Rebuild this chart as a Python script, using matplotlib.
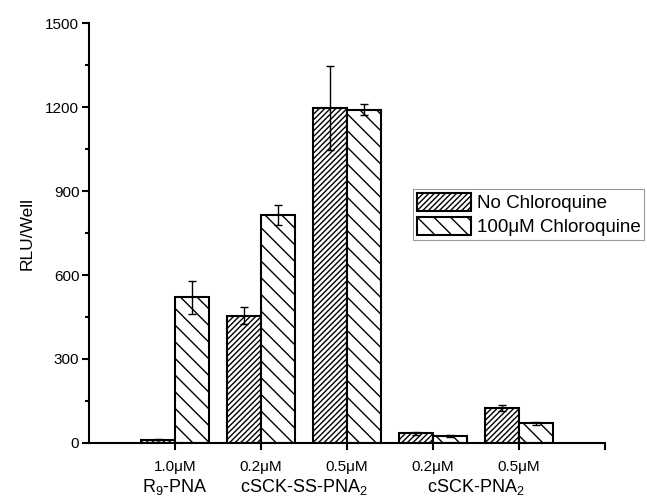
import matplotlib
matplotlib.use("Agg")
import matplotlib.pyplot as plt
import numpy as np

plt.rcParams['font.family'] = ['Liberation Sans', 'DejaVu Sans']
plt.rcParams['mathtext.fontset'] = 'custom'
plt.rcParams['mathtext.rm'] = 'Liberation Sans'
plt.rcParams['mathtext.it'] = 'Liberation Sans'
plt.rcParams['hatch.linewidth'] = 1.0

# data
conc = ["1.0\u03bcM", "0.2\u03bcM", "0.5\u03bcM", "0.2\u03bcM", "0.5\u03bcM"]
no_chq = [12, 455, 1195, 35, 125]
no_chq_err = [2, 30, 150, 5, 12]
chq = [520, 815, 1190, 25, 70]
chq_err = [60, 35, 20, 3, 6]
groups = ["R$_9$-PNA", "cSCK-SS-PNA$_2$", "cSCK-PNA$_2$"]
group_pos = [1, 2.5, 4.5]

fig = plt.figure(figsize=(6.47, 4.96), dpi=100)
ax = fig.add_axes([89/647, 1-443/496, (605-89)/647, (443-23)/496])

x = np.arange(1, len(conc) + 1)
w = 0.4
ax.bar(x - w/2, no_chq, w, color='white', edgecolor='black', linewidth=1.5,
       hatch='//////', label='No Chloroquine')
ax.bar(x + w/2, chq, w, color='white', edgecolor='black', linewidth=1.5,
       hatch='\\\\', label='100\u03bcM Chloroquine')
ax.errorbar(x - w/2, no_chq, yerr=no_chq_err, fmt='none', ecolor='black',
            elinewidth=1, capsize=3, capthick=1)
ax.errorbar(x + w/2, chq, yerr=chq_err, fmt='none', ecolor='black',
            elinewidth=1, capsize=3, capthick=1)

ax.set_xlim(0, 6)
ax.set_ylim(0, 1500)
ax.set_yticks(np.arange(0, 1501, 300))
ax.set_yticks(np.arange(150, 1500, 300), minor=True)
ax.set_xticks(np.arange(1, 7))
ax.set_xticklabels(conc + [""])
ax.tick_params(direction='out', width=1.5, length=5, labelsize=11)
ax.tick_params(which='minor', direction='out', width=1.5, length=3)
ax.tick_params(axis='x', pad=7)
ax.tick_params(axis='y', pad=2)
for s in ['top', 'right']:
    ax.spines[s].set_visible(False)
for s in ['left', 'bottom']:
    ax.spines[s].set_linewidth(1.5)

for g, p in zip(groups, group_pos):
    ax.text(p, -0.08, g, transform=ax.get_xaxis_transform(), ha='center',
            va='top', fontsize=13)

ax.set_ylabel("RLU/Well", fontsize=12.5, labelpad=8)

leg = ax.legend(loc='upper left', bbox_to_anchor=(413/647, 1-189/496),
                bbox_transform=fig.transFigure, fontsize=13.5, frameon=True,
                fancybox=False, borderpad=0.2, labelspacing=0.25,
                handlelength=2.9, handleheight=1.1, handletextpad=0.3,
                borderaxespad=0)
leg.get_frame().set_edgecolor('gray')
leg.get_frame().set_linewidth(0.8)

fig.savefig("out.png", dpi=100)
